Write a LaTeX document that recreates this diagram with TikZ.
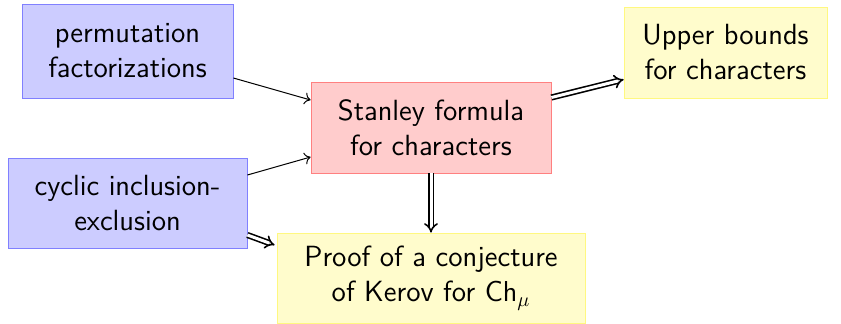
\documentclass[tikz,border=0pt]{standalone}
\usetikzlibrary{arrows.meta}
\renewcommand{\familydefault}{\sfdefault}
\begin{document}
\begin{tikzpicture}[x=0.5pt,y=-0.5pt,
  box/.style={rectangle, draw, align=center, font=\fontsize{14.6}{17.5}\selectfont, inner sep=0pt},
  bluebox/.style={box, fill=blue!20, draw=blue!50},
  redbox/.style={box, fill=red!20, draw=red!50},
  yellowbox/.style={box, fill=yellow!20, draw=yellow!50},
  thin arrow/.style={-{To[length=3pt,width=6pt]}, line width=0.5pt},
  dbl arrow/.style={double, double distance=1.5pt, line width=0.5pt, -{Implies[]}, thick},
]
\useasboundingbox (0,0) rectangle (841,323);
\node[bluebox, minimum width=105.5pt, minimum height=47pt] (perm) at (127.5,51) {permutation\\factorizations};
\node[bluebox, minimum width=119.5pt, minimum height=45pt] (cyc) at (127.5,203) {cyclic inclusion-\\exclusion};
\node[redbox, minimum width=120pt, minimum height=45.5pt] (stan) at (431,127.5) {Stanley formula\\for characters};
\node[yellowbox, minimum width=101.5pt, minimum height=45.5pt] (up) at (725.5,52.5) {Upper bounds\\for characters};
\node[yellowbox, minimum width=154pt, minimum height=45pt] (proof) at (431,278) {Proof of a conjecture\\of Kerov for $\mathsf{Ch}_\mu$};
\draw[thin arrow] ([yshift=-13.5pt]perm.east) -- ([yshift=13.75pt]stan.west);
\draw[thin arrow] ([yshift=14pt]cyc.east) -- ([yshift=-14.75pt]stan.west);
\draw[dbl arrow] ([yshift=-16pt]cyc.east) -- ([xshift=-1pt,yshift=16.5pt]proof.west);
\draw[dbl arrow] (stan.south) -- (proof.north);
\draw[dbl arrow] ([yshift=15pt]stan.east) -- ([yshift=-13.5pt]up.west);
\end{tikzpicture}
\end{document}
